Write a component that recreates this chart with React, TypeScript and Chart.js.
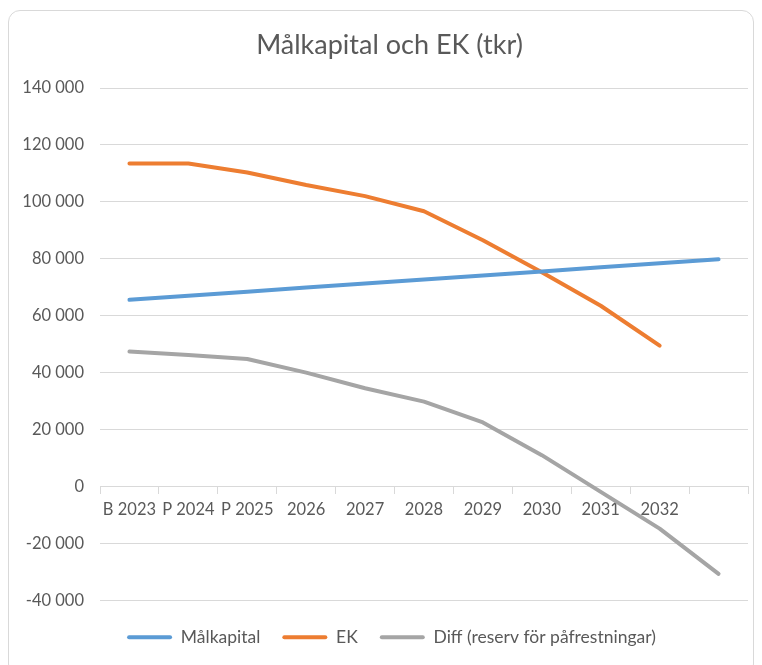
import React, { useEffect, useRef } from "react";
import { Chart, registerables } from "chart.js";

Chart.register(...registerables);

const categories = ["B 2023", "P 2024", "P 2025", "2026", "2027", "2028", "2029", "2030", "2031", "2032", ""];
const malkapital = [65600, 67000, 68400, 69900, 71300, 72700, 74100, 75500, 77000, 78400, 79800];
const ek = [113500, 113500, 110300, 105900, 102000, 96700, 86500, 75300, 63500, 49500, null];
const diff = [47400, 46200, 44800, 40000, 34500, 29800, 22500, 11000, -1900, -14800, -30700];
const yMin = -40000;
const yMax = 140000;
const yStep = 20000;

const FONT = "Lato, 'Open Sans', sans-serif";
const TEXT = "#595959";
const GRID = "#d9d9d9";

function fmt(v: number): string {
  const s = Math.abs(Math.round(v)).toString().replace(/\B(?=(\d{3})+(?!\d))/g, " ");
  return (v < 0 ? "-" : "") + s;
}

const shiftBoxes = {
  id: "shiftBoxes",
  afterLayout(chart: any) {
    const t = chart.titleBlock;
    if (t) {
      t.left += 11;
      t.right += 11;
    }
    const l = chart.legend;
    if (l) {
      l.left += 13;
      l.right += 13;
    }
  },
};

export default function App() {
  const ref = useRef<HTMLCanvasElement | null>(null);

  useEffect(() => {
    if (!ref.current) return;
    const chart = new Chart(ref.current, {
      type: "line",
      data: {
        labels: categories,
        datasets: [
          { label: "Målkapital", data: malkapital, borderColor: "#5b9bd5", backgroundColor: "#5b9bd5" },
          { label: "EK", data: ek, borderColor: "#ed7d31", backgroundColor: "#ed7d31" },
          { label: "Diff (reserv för påfrestningar)", data: diff, borderColor: "#a5a5a5", backgroundColor: "#a5a5a5" },
        ],
      },
      plugins: [shiftBoxes],
      options: {
        animation: false,
        responsive: false,
        maintainAspectRatio: false,
        datasets: {
          line: {
            borderWidth: 4,
            pointRadius: 0,
            pointHoverRadius: 0,
            borderCapStyle: "round",
            borderJoinStyle: "round",
            tension: 0,
            spanGaps: false,
          },
        },
        layout: { padding: { top: 0, right: 5, bottom: 19, left: 0 } },
        plugins: {
          title: {
            display: true,
            text: "Målkapital och EK (tkr)",
            color: TEXT,
            font: { family: FONT, size: 27, weight: "normal" },
            padding: { top: 18, bottom: 26.6 },
          },
          legend: {
            position: "bottom",
            title: { display: true, text: "", font: { size: 1 }, padding: { top: 5, bottom: 0 } },
            labels: {
              color: TEXT,
              font: { family: FONT, size: 17.5 },
              boxWidth: 45,
              boxHeight: 4,
              padding: 22,
              useBorderRadius: true,
              borderRadius: 2,
              generateLabels: (c: any) =>
                (Chart.defaults.plugins.legend.labels.generateLabels as any)(c).map((l: any) => ({
                  ...l,
                  lineWidth: 0,
                  fillStyle: l.strokeStyle,
                })),
            },
          },
          tooltip: { enabled: false },
        },
        scales: {
          x: {
            type: "category",
            offset: true,
            position: { y: 0 } as any,
            grid: {
              offset: true,
              drawOnChartArea: false,
              drawTicks: true,
              tickLength: 7,
              color: GRID,
            },
            border: { display: true, color: GRID, width: 1 },
            ticks: {
              color: TEXT,
              font: { family: FONT, size: 16.5 },
              padding: 6,
              maxRotation: 0,
              autoSkip: false,
            },
            afterFit: (s: any) => {
              s.height = 0;
            },
          },
          y: {
            min: yMin,
            max: yMax,
            grid: { color: GRID, drawTicks: false, lineWidth: 1 },
            border: { display: false },
            ticks: {
              stepSize: yStep,
              color: TEXT,
              font: { family: FONT, size: 16.5 },
              padding: 16,
              callback: (v: any) => fmt(Number(v)),
            },
            afterFit: (s: any) => {
              s.width = 91;
            },
          },
        },
      },
    });
    return () => chart.destroy();
  }, []);

  return (
    <div
      style={{
        marginTop: 2,
        width: 744,
        height: 664,
        border: `1px solid ${GRID}`,
        borderRadius: 12,
        background: "#fff",
        overflow: "hidden",
      }}
    >
      <canvas ref={ref} width={744} height={664} style={{ display: "block" }} />
    </div>
  );
}
